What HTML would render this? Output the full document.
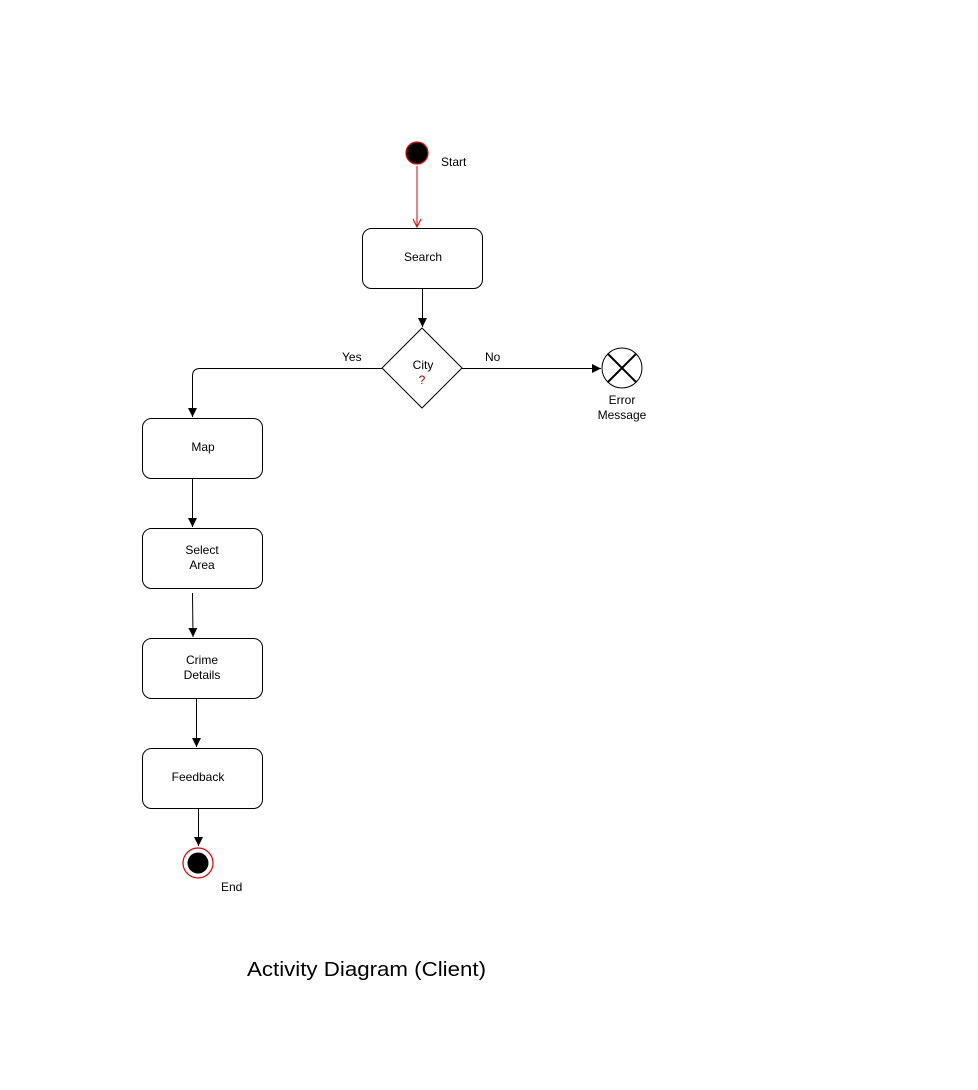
<!DOCTYPE html>
<html><head><meta charset="utf-8"><style>
html,body{margin:0;padding:0;background:#fff;}
svg{display:block;}
text{font-family:"Liberation Sans",Arial,sans-serif;font-size:12px;fill:#000;}
</style></head><body>
<svg width="978" height="1090" viewBox="0 0 978 1090" xmlns="http://www.w3.org/2000/svg">
<defs>
<marker id="a" markerWidth="12" markerHeight="12" refX="10" refY="6" orient="auto" markerUnits="userSpaceOnUse"><path d="M1,1.5 L10,6 L1,10.5 Z" fill="#000"/></marker>
<marker id="r" markerWidth="10" markerHeight="12" refX="9" refY="5" orient="auto" markerUnits="userSpaceOnUse"><path d="M1,1 L9,5 L1,9" fill="none" stroke="#e00000" stroke-width="1"/></marker>
</defs>
<circle cx="417" cy="153" r="11" fill="#000" stroke="#e00000" stroke-width="1.2"/>
<text x="441" y="166">Start</text>
<line x1="417" y1="166" x2="417" y2="227" stroke="#e00000" stroke-width="1" marker-end="url(#r)"/>
<rect x="362.5" y="228.5" width="120" height="60" rx="9" fill="#fff" stroke="#000" stroke-width="1"/>
<text x="423" y="261" text-anchor="middle">Search</text>
<line x1="422.5" y1="289" x2="422.5" y2="327" stroke="#000" marker-end="url(#a)"/>
<polygon points="422,328 462,368 422,408 382,368" fill="#fff" stroke="#000"/>
<text x="423" y="369" text-anchor="middle">City</text>
<text x="422" y="384" text-anchor="middle" style="fill:#a00000">?</text>
<line x1="462" y1="368.5" x2="601" y2="368.5" stroke="#000" marker-end="url(#a)"/>
<text x="485" y="361">No</text>
<circle cx="622" cy="368" r="20" fill="#fff" stroke="#000"/>
<line x1="608" y1="354" x2="636" y2="382" stroke="#000" stroke-width="2"/>
<line x1="636" y1="354" x2="608" y2="382" stroke="#000" stroke-width="2"/>
<text x="622" y="404" text-anchor="middle">Error</text>
<text x="622" y="419" text-anchor="middle">Message</text>
<path d="M382,368.5 L200,368.5 Q192.5,368.5 192.5,376 L192.5,417" fill="none" stroke="#000" marker-end="url(#a)"/>
<text x="342" y="361">Yes</text>
<rect x="142.5" y="418.5" width="120" height="60" rx="9" fill="#fff" stroke="#000"/>
<text x="203" y="451" text-anchor="middle">Map</text>
<line x1="192.5" y1="479" x2="192.5" y2="527" stroke="#000" marker-end="url(#a)"/>
<rect x="142.5" y="528.5" width="120" height="60" rx="9" fill="#fff" stroke="#000"/>
<text x="202" y="554" text-anchor="middle">Select</text>
<text x="202" y="569" text-anchor="middle">Area</text>
<line x1="192.5" y1="593" x2="193" y2="637" stroke="#000" marker-end="url(#a)"/>
<rect x="142.5" y="638.5" width="120" height="60" rx="9" fill="#fff" stroke="#000"/>
<text x="202" y="664" text-anchor="middle">Crime</text>
<text x="202" y="679" text-anchor="middle">Details</text>
<line x1="196.5" y1="699" x2="196.5" y2="747" stroke="#000" marker-end="url(#a)"/>
<rect x="142.5" y="748.5" width="120" height="60" rx="9" fill="#fff" stroke="#000"/>
<text x="198" y="781" text-anchor="middle">Feedback</text>
<line x1="198.5" y1="809" x2="198.5" y2="846" stroke="#000" marker-end="url(#a)"/>
<circle cx="198" cy="863" r="15" fill="#fff" stroke="#e00000" stroke-width="1.2"/>
<circle cx="198" cy="863" r="10.5" fill="#000"/>
<text x="221" y="891">End</text>
<text x="247" y="976" style="font-size:20px" textLength="239" lengthAdjust="spacingAndGlyphs">Activity Diagram (Client)</text>
</svg>
</body></html>
